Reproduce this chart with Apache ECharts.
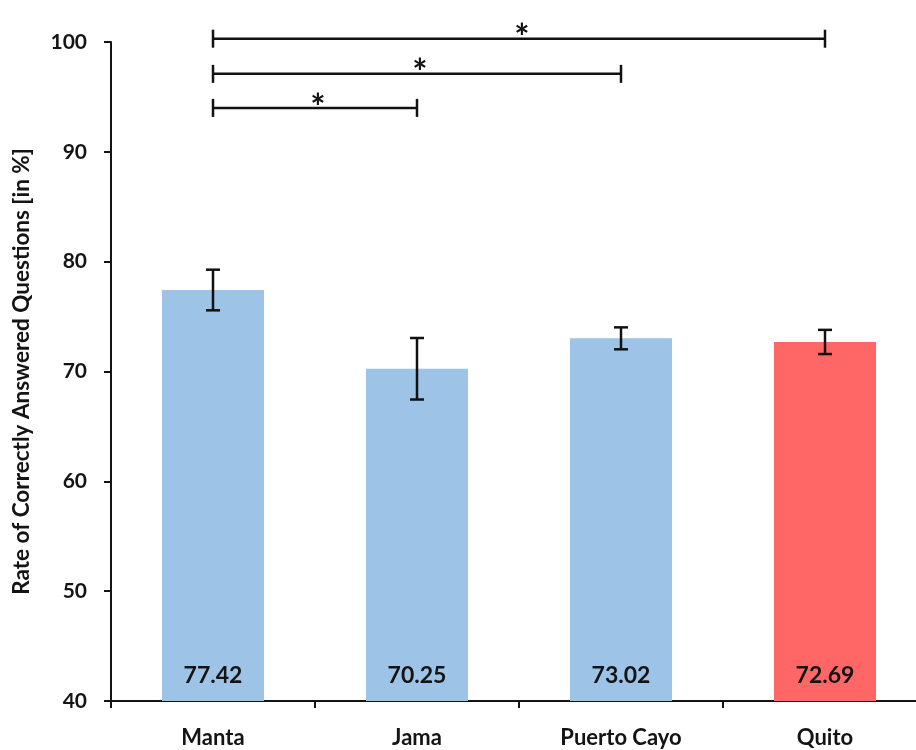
<!DOCTYPE html>
<html>
<head>
<meta charset="utf-8">
<script src="https://cdn.jsdelivr.net/npm/echarts@6/dist/echarts.min.js"></script>
<style>
  html, body { margin: 0; padding: 0; background: #fff; }
  #chart { width: 916px; height: 750px; }
</style>
</head>
<body>
<div id="chart"></div>
<script>
// Survey sites and their mean rate of correct answers (%)
const sites = ['Manta', 'Jama', 'Puerto Cayo', 'Quito'];
const meanRates = [77.42, 70.25, 73.02, 72.69];
// Half-width of the error bar for each site (percentage points)
const errorHalf = [1.85, 2.8, 1.0, 1.1];
const barColors = ['#9DC3E6', '#9DC3E6', '#9DC3E6', '#FF6666'];
// Significance comparisons: [from site index, to site index, bracket height, marker]
const comparisons = [
  [0, 3, 100.3, '*'],
  [0, 2, 97.1, '*'],
  [0, 1, 94.0, '*']
];
const yTicks = { min: 40, max: 100, step: 10 };

const FONT = 'Lato, "Open Sans", sans-serif';
const INK = '#141414';

const chart = echarts.init(document.getElementById('chart'), null, { renderer: 'canvas' });

const errorData = sites.map((s, i) => [i, meanRates[i] - errorHalf[i], meanRates[i] + errorHalf[i]]);

chart.setOption({
  backgroundColor: '#ffffff',
  animation: false,
  grid: {
    left: 111, top: 42, width: 816, height: 659,
    containLabel: false,
    outerBoundsMode: 'none'
  },
  xAxis: {
    type: 'category',
    data: sites,
    axisLine: { show: true, lineStyle: { color: INK, width: 2 } },
    axisTick: { show: true, length: 7, lineStyle: { color: INK, width: 2 } },
    axisLabel: { color: INK, fontFamily: FONT, fontWeight: 'bold', fontSize: 22, margin: 26 },
    splitLine: { show: false }
  },
  yAxis: {
    type: 'value',
    min: yTicks.min,
    max: yTicks.max,
    interval: yTicks.step,
    name: 'Rate of Correctly Answered Questions [in %]',
    nameLocation: 'middle',
    nameGap: 78,
    nameRotate: 90,
    nameTextStyle: { color: INK, fontFamily: FONT, fontWeight: 'bold', fontSize: 22.5 },
    axisLine: { show: true, lineStyle: { color: INK, width: 2 } },
    axisTick: { show: true, length: 7, lineStyle: { color: INK, width: 2 } },
    axisLabel: { color: INK, fontFamily: FONT, fontWeight: 'bold', fontSize: 21, margin: 24 },
    splitLine: { show: false }
  },
  series: [
    {
      type: 'bar',
      data: meanRates.map((v, i) => ({ value: v, itemStyle: { color: barColors[i] } })),
      barCategoryGap: '50%',
      label: {
        show: true,
        position: 'insideBottom',
        distance: 14,
        color: INK,
        fontFamily: FONT,
        fontWeight: 'bold',
        fontSize: 23,
        formatter: p => p.value.toFixed(2)
      },
      z: 2
    },
    {
      // error bars
      type: 'custom',
      data: errorData,
      z: 5,
      renderItem: function (params, api) {
        const x = api.value(0);
        const lo = api.coord([x, api.value(1)]);
        const hi = api.coord([x, api.value(2)]);
        const cap = 7;
        const style = { stroke: '#111', lineWidth: 2.5 };
        return {
          type: 'group',
          children: [
            { type: 'line', shape: { x1: hi[0], y1: hi[1], x2: lo[0], y2: lo[1] }, style },
            { type: 'line', shape: { x1: hi[0] - cap, y1: hi[1], x2: hi[0] + cap, y2: hi[1] }, style },
            { type: 'line', shape: { x1: lo[0] - cap, y1: lo[1], x2: lo[0] + cap, y2: lo[1] }, style }
          ]
        };
      }
    },
    {
      // significance brackets
      type: 'custom',
      data: comparisons,
      clip: false,
      z: 6,
      renderItem: function (params, api) {
        const a = api.coord([api.value(0), api.value(2)]);
        const b = api.coord([api.value(1), api.value(2)]);
        const y = a[1];
        const h = 9;
        const style = { stroke: '#111', lineWidth: 2.5 };
        return {
          type: 'group',
          children: [
            { type: 'line', shape: { x1: a[0], y1: y, x2: b[0], y2: y }, style },
            { type: 'line', shape: { x1: a[0], y1: y - h, x2: a[0], y2: y + h }, style },
            { type: 'line', shape: { x1: b[0], y1: y - h, x2: b[0], y2: y + h }, style },
            {
              type: 'text',
              style: {
                text: comparisons[params.dataIndex][3],
                x: (a[0] + b[0]) / 2 + 3,
                y: y,
                align: 'center',
                verticalAlign: 'middle',
                fill: '#111',
                font: 'bold 36px ' + FONT
              }
            }
          ]
        };
      }
    }
  ]
});
</script>
</body>
</html>
